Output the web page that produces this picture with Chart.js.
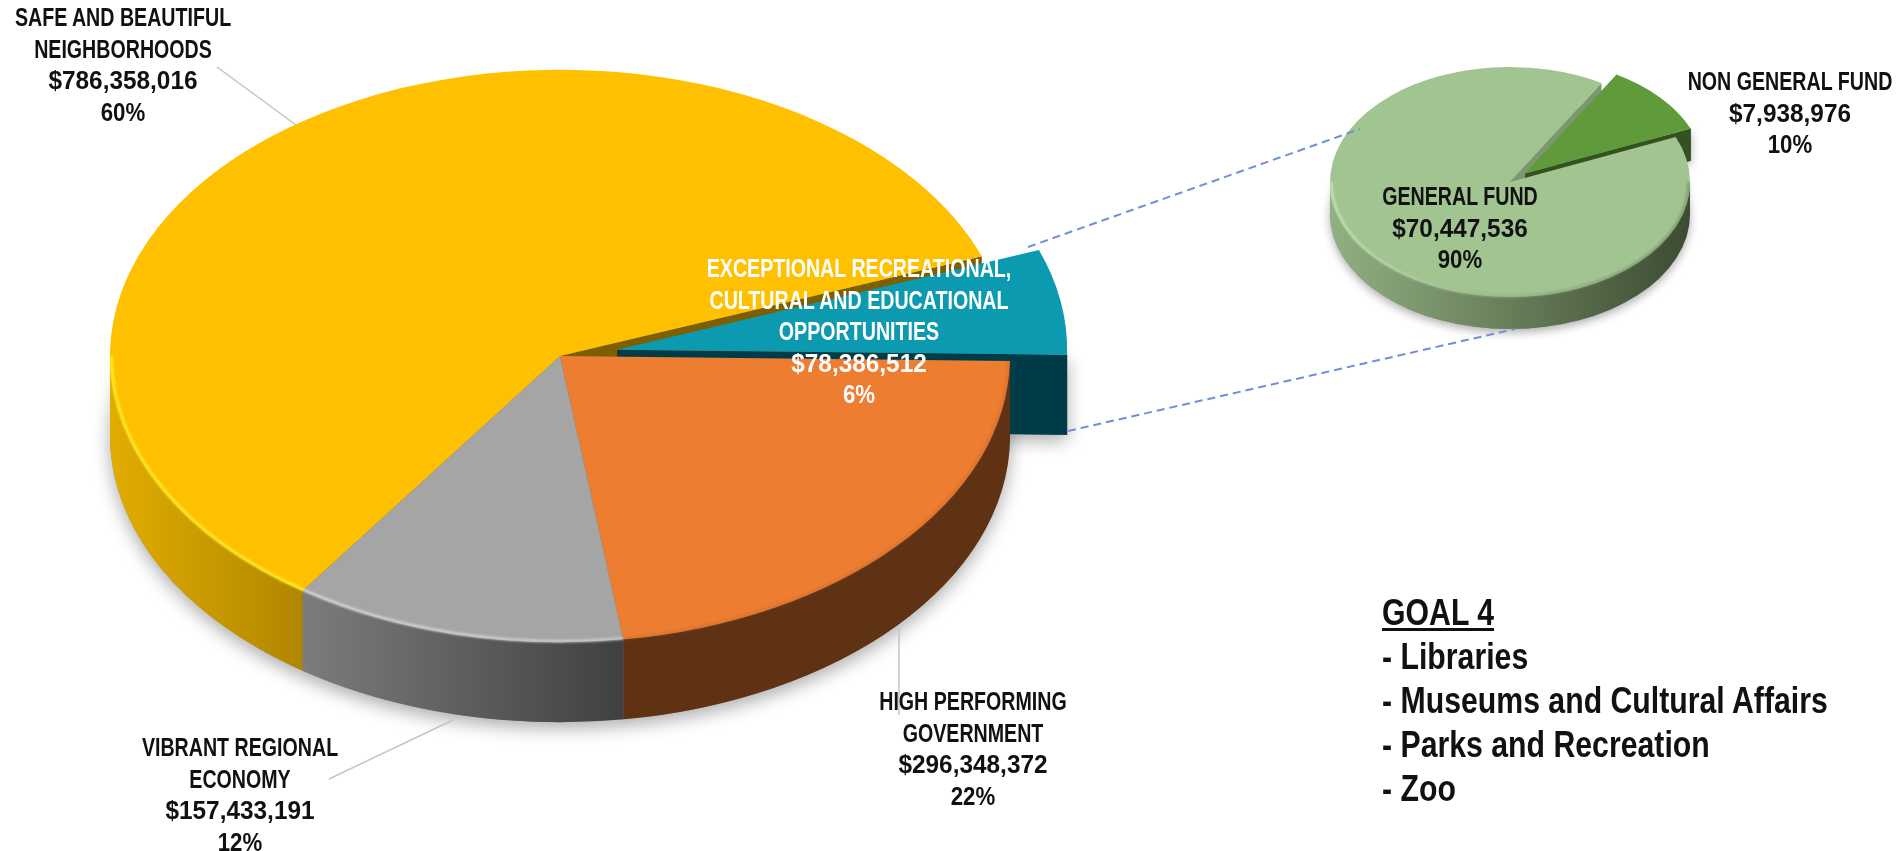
<!DOCTYPE html>
<html><head><meta charset="utf-8">
<script src="https://cdn.jsdelivr.net/npm/chart.js@4"></script>
<style>
html,body{margin:0;padding:0;background:#fff;width:1901px;height:851px;overflow:hidden}
canvas{position:absolute;left:0;top:0}
svg{position:absolute;left:0;top:0}
.lab{position:absolute;transform:translateX(-50%);text-align:center;white-space:nowrap;font-family:"Liberation Sans",sans-serif;font-weight:700;font-size:25px;line-height:31.5px;color:#111;filter:blur(.35px)}
.lab div{transform-origin:center}
#goal{position:absolute;left:1382px;top:591px;font-family:"Liberation Sans",sans-serif;font-weight:700;font-size:36px;line-height:44px;color:#111;white-space:nowrap;transform:scaleX(.84);transform-origin:left top;filter:blur(.35px)}
#goal u{text-underline-offset:3px}
</style></head><body>
<canvas id="mainPie" width="1901" height="851"></canvas>
<canvas id="detailPie" width="1901" height="851"></canvas>
<svg width="1901" height="851" id="lines">
<g stroke="#c4c4c4" stroke-width="1.5" fill="none">
<line x1="296" y1="125" x2="217" y2="67"/><line x1="453" y1="720" x2="329" y2="779"/><line x1="899" y1="628" x2="899" y2="715"/>
</g>
<g stroke="#6f8fd8" stroke-width="2" stroke-dasharray="8 5" fill="none">
<line x1="1028" y1="247" x2="1360" y2="129"/><line x1="1068" y1="431" x2="1515" y2="329"/>
</g>
</svg>
<div id="labels"></div>
<div id="goal"></div>
<script>
const mainNames = [['HIGH PERFORMING','GOVERNMENT'],['VIBRANT REGIONAL','ECONOMY'],['SAFE AND BEAUTIFUL','NEIGHBORHOODS'],['EXCEPTIONAL RECREATIONAL,','CULTURAL AND EDUCATIONAL','OPPORTUNITIES']];
const mainValues = [296348372,157433191,786358016,78386512];
const mainPercents = [22,12,60,6];
const detailNames = [['GENERAL FUND'],['NON GENERAL FUND']];
const detailValues = [70447536,7938976];
const detailPercents = [90,10];
const goalTitle = 'GOAL 4';
const goalItems = ['Libraries','Museums and Cultural Affairs','Parks and Recreation','Zoo'];

const mainColors = ['#ed7d31','#a5a5a5','#ffc000','#0c9ab0'];
const mainWalls = [['#5f3214','#5f3214'],['#7c7c7c','#404040'],['#e2ad00','#b08600'],['#003c48','#003c48']];
const mainRims = [['rgba(190,100,40,.35)','rgba(190,100,40,.35)'],['rgba(215,215,215,.9)','rgba(215,215,215,.7)'],['rgba(255,236,40,.95)','rgba(255,236,40,.95)'],['rgba(0,0,0,0)','rgba(0,0,0,0)']];
const mainRadial = ['#5f3214','#404040','#7d5f00','#003c48'];
const mainExplode = [0,0,0,58];
const detailColors = ['#a2c490','#5f9a3b'];
const detailWalls = [['#92b082','#3c4b32'],['#35511f','#35511f']];
const detailRims = [['rgba(205,232,190,.95)','rgba(90,115,75,.5)'],['rgba(0,0,0,0)','rgba(0,0,0,0)']];
const detailRadial = ['#7c9670','#35511f'];
const detailExplode = [0,20];

function pie3d(o){
  const origin=chart=>({bx:(chart.chartArea.left+chart.chartArea.right)/2,by:(chart.chartArea.top+chart.chartArea.bottom)/2});
  return {id:'pie3d',
    beforeDatasetsDraw(chart){
      const ctx=chart.ctx,arcs=chart.getDatasetMeta(0).data,R=arcs[0].outerRadius,{bx,by}=origin(chart);
      const info=arcs.map((el,i)=>{
        const d=o.explode[i],h=(el.startAngle+el.endAngle)/2;
        el.x=bx+Math.cos(h)*d;el.y=by+Math.sin(h)*d;
        return {el,i,d,X:o.cx+Math.cos(h)*d,Y:o.cy+Math.sin(h)*d*o.k};
      });
      const outer=p=>{
        const el=p.el;
        for(let n=-1;n<3;n++){
          const a=Math.max(el.startAngle,n*2*Math.PI),b=Math.min(el.endAngle,n*2*Math.PI+Math.PI);
          if(b<=a)continue;
          const g=ctx.createLinearGradient(p.X+R*Math.cos(b),0,p.X+R*Math.cos(a),0);
          g.addColorStop(0,o.walls[p.i][0]);g.addColorStop(1,o.walls[p.i][1]);
          ctx.beginPath();ctx.ellipse(p.X,p.Y,R,R*o.k,0,a,b);ctx.ellipse(p.X,p.Y+o.depth,R,R*o.k,0,b,a,true);ctx.closePath();
          ctx.fillStyle=g;ctx.fill();
        }
      };
      const radial=p=>{
        const e=p.el.endAngle,ex=p.X+R*Math.cos(e),ey=p.Y+R*o.k*Math.sin(e);
        ctx.beginPath();ctx.moveTo(p.X,p.Y);ctx.lineTo(ex,ey);ctx.lineTo(ex,ey+o.depth);ctx.lineTo(p.X,p.Y+o.depth);ctx.closePath();
        ctx.fillStyle=o.radial[p.i];ctx.fill();
      };
      ctx.save();
      ctx.shadowColor='rgba(0,0,0,.33)';ctx.shadowBlur=o.blur;ctx.shadowOffsetY=o.blur/3;ctx.shadowOffsetX=0;
      ctx.fillStyle='#888';
      ctx.beginPath();ctx.ellipse(o.cx,o.cy+o.depth,R,R*o.k,0,0,2*Math.PI);ctx.fill();
      info.filter(p=>p.d>0).forEach(radial);
      ctx.shadowColor='transparent';ctx.shadowBlur=0;ctx.shadowOffsetY=0;
      info.filter(p=>p.d===0).forEach(radial);
      info.filter(p=>p.d>0).forEach(radial);
      info.filter(p=>p.d>0).forEach(outer);
      info.filter(p=>p.d===0).forEach(outer);
      ctx.restore();
    },
    beforeDatasetDraw(chart){
      const ctx=chart.ctx,{bx,by}=origin(chart);
      ctx.save();ctx.translate(o.cx,o.cy);ctx.scale(1,o.k);ctx.translate(-bx,-by);
    },
    afterDatasetDraw(chart){
      const ctx=chart.ctx;ctx.restore();
      const arcs=chart.getDatasetMeta(0).data,R=arcs[0].outerRadius;
      ctx.save();ctx.filter='blur(1px)';ctx.lineWidth=o.rim;
      arcs.forEach((el,i)=>{
        if(o.explode[i]>0)return;
        for(let n=-1;n<3;n++){
          const a=Math.max(el.startAngle,n*2*Math.PI),b=Math.min(el.endAngle,n*2*Math.PI+Math.PI);
          if(b<=a)continue;
          const g=ctx.createLinearGradient(o.cx+R*Math.cos(b),0,o.cx+R*Math.cos(a),0);
          g.addColorStop(0,o.rims[i][0]);g.addColorStop(1,o.rims[i][1]);
          ctx.beginPath();ctx.ellipse(o.cx,o.cy,R-o.rim/2,(R-o.rim/2)*o.k,0,a,b);
          ctx.strokeStyle=g;ctx.stroke();
        }
      });
      ctx.restore();
    }
  };
}
function makePie(id,labels,values,colors,radius,rotation,o){
  return new Chart(document.getElementById(id),{
    type:'pie',
    data:{labels,datasets:[{data:values,backgroundColor:colors,borderWidth:0,clip:false}]},
    options:{responsive:false,animation:false,radius,rotation,devicePixelRatio:1,
      layout:{padding:0},
      plugins:{legend:{display:false},tooltip:{enabled:false}}},
    plugins:[pie3d(o)]
  });
}
makePie('mainPie',mainNames.map(n=>n.join(' ')),mainValues,mainColors,450,91,
  {cx:560,cy:356,k:.636,depth:80,blur:18,rim:3,walls:mainWalls,rims:mainRims,radial:mainRadial,explode:mainExplode});
makePie('detailPie',detailNames.map(n=>n.join(' ')),detailValues,detailColors,180,67,
  {cx:1510,cy:182,k:.639,depth:32,blur:10,rim:2.5,walls:detailWalls,rims:detailRims,radial:detailRadial,explode:detailExplode});

const fmt=v=>'$'+v.toLocaleString('en-US');
const wrap=document.getElementById('labels');
function addLine(d,t,sx){const l=document.createElement('div');l.textContent=t;l.style.transform='scaleX('+sx+')';d.appendChild(l);}
function addLabel(names,value,pct,x,y,color){
  const d=document.createElement('div');d.className='lab';
  d.style.left=x+'px';d.style.top=y+'px';if(color)d.style.color=color;
  names.forEach(t=>addLine(d,t,.785));addLine(d,fmt(value),.975);addLine(d,pct+'%',.89);
  wrap.appendChild(d);
}
addLabel(mainNames[0],mainValues[0],mainPercents[0],973,686);
addLabel(mainNames[1],mainValues[1],mainPercents[1],240,732);
addLabel(mainNames[2],mainValues[2],mainPercents[2],123,2);
addLabel(mainNames[3],mainValues[3],mainPercents[3],859,253,'#fff');
addLabel(detailNames[0],detailValues[0],detailPercents[0],1460,181);
addLabel(detailNames[1],detailValues[1],detailPercents[1],1790,66);
const g=document.getElementById('goal');
const t=document.createElement('div');const u=document.createElement('u');u.textContent=goalTitle;t.appendChild(u);g.appendChild(t);
goalItems.forEach(s=>{const l=document.createElement('div');l.textContent='- '+s;g.appendChild(l);});
</script>
</body></html>
